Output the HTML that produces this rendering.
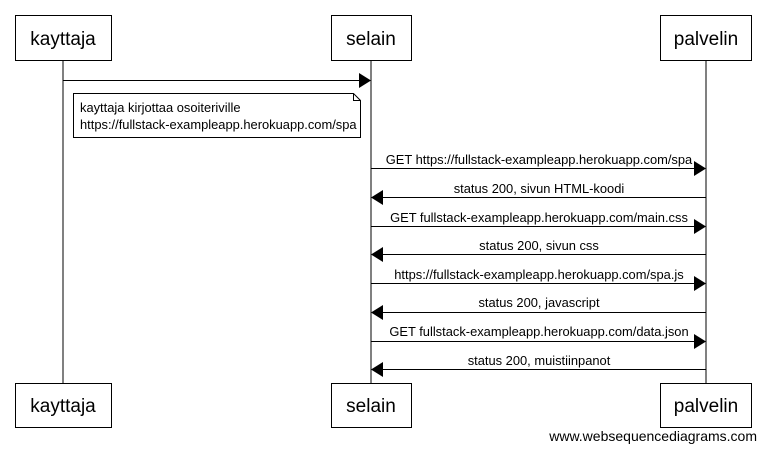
<!DOCTYPE html>
<html><head><style>body{margin:0;background:#fff}</style></head><body>
<svg width="766" height="451" xmlns="http://www.w3.org/2000/svg" font-family="Liberation Sans, sans-serif">
<g stroke="#000" stroke-width="1" fill="none">
<line x1="63" y1="60" x2="63" y2="383"/>
<line x1="371" y1="60" x2="371" y2="383"/>
<line x1="706" y1="60" x2="706" y2="383"/>
</g>
<g stroke="#000" fill="#fff">
<rect x="15.5" y="15.5" width="96" height="45"/>
<rect x="331.5" y="15.5" width="80" height="45"/>
<rect x="660.5" y="15.5" width="91" height="45"/>
<rect x="15.5" y="383.5" width="96" height="44"/>
<rect x="331.5" y="383.5" width="80" height="44"/>
<rect x="660.5" y="383.5" width="91" height="44"/>
</g>
<g font-size="19" text-anchor="middle">
<text x="63" y="45">kayttaja</text><text x="371" y="45">selain</text><text x="706" y="45">palvelin</text>
<text x="63" y="412">kayttaja</text><text x="371" y="412">selain</text><text x="706" y="412">palvelin</text>
</g>
<line x1="63" y1="80.5" x2="360" y2="80.5" stroke="#000"/>
<polygon points="359,73 371,80.5 359,88" fill="#000"/>
<path d="M73.5 93.5 H353.5 L360.5 100.5 V137.5 H73.5 Z M353.5 93.5 V100.5 H360.5" fill="#fff" stroke="#000"/>
<text x="80" y="112" font-size="12.9">kayttaja kirjottaa osoiteriville</text>
<text x="80" y="129" font-size="12.9">https://fullstack-exampleapp.herokuapp.com/spa</text>
<g font-size="12.9" text-anchor="middle">
<text x="539" y="164">GET https://fullstack-exampleapp.herokuapp.com/spa</text>
<text x="539" y="193">status 200, sivun HTML-koodi</text>
<text x="539" y="222">GET fullstack-exampleapp.herokuapp.com/main.css</text>
<text x="539" y="250">status 200, sivun css</text>
<text x="539" y="279">https://fullstack-exampleapp.herokuapp.com/spa.js</text>
<text x="539" y="307">status 200, javascript</text>
<text x="539" y="336">GET fullstack-exampleapp.herokuapp.com/data.json</text>
<text x="539" y="365">status 200, muistiinpanot</text>
</g>
<g stroke="#000">
<line x1="371" y1="168.5" x2="695" y2="168.5"/>
<line x1="382" y1="197.5" x2="706" y2="197.5"/>
<line x1="371" y1="226.5" x2="695" y2="226.5"/>
<line x1="382" y1="254.5" x2="706" y2="254.5"/>
<line x1="371" y1="283.5" x2="695" y2="283.5"/>
<line x1="382" y1="312.5" x2="706" y2="312.5"/>
<line x1="371" y1="341.5" x2="695" y2="341.5"/>
<line x1="382" y1="369.5" x2="706" y2="369.5"/>
</g>
<g fill="#000">
<polygon points="694,161 706,168.5 694,176"/>
<polygon points="383,190 371,197.5 383,205"/>
<polygon points="694,219 706,226.5 694,234"/>
<polygon points="383,247 371,254.5 383,262"/>
<polygon points="694,276 706,283.5 694,291"/>
<polygon points="383,305 371,312.5 383,320"/>
<polygon points="694,334 706,341.5 694,349"/>
<polygon points="383,362 371,369.5 383,377"/>
</g>
<text x="757" y="441" font-size="14" text-anchor="end">www.websequencediagrams.com</text>
</svg>
</body></html>
